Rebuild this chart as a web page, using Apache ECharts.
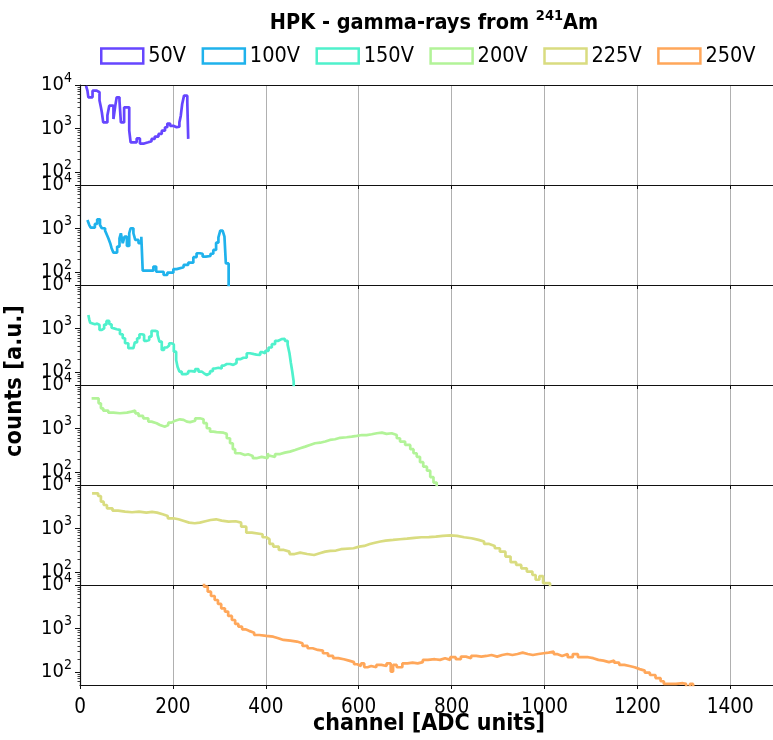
<!DOCTYPE html>
<html><head><meta charset="utf-8">
<script src="https://cdn.jsdelivr.net/npm/echarts@6/dist/echarts.min.js"></script>
<style>html,body{margin:0;padding:0;background:#fff}#c{width:773px;height:740px}</style>
</head><body><div id="c"></div>
<script>
// ---------------- data ----------------
const seriesNames = ['50V', '100V', '150V', '200V', '225V', '250V'];
const xTicks = [0, 200, 400, 600, 800, 1000, 1200, 1400];
const yMajorTicks = [100, 1000, 10000];
const yMinorTicks = [60, 70, 80, 90, 200, 300, 400, 500, 600, 700, 800, 900, 2000, 3000, 4000, 5000, 6000, 7000, 8000, 9000];

// bin left edges (channel) and counts; last entry = closing edge
const edges50 = [13,16,18,27,36,42,45,47,50,59,63,72,76,79,85,88,95,106,109,122,129,138,147,154,161,169,176,183,188,194,201,208,214,217,220,224,231,233];
const counts50 = [9500,7400,5200,7400,6800,4400,3070,2360,1380,2000,3350,1650,3350,5200,4370,1380,3070,890,480,590,450,480,510,575,650,750,890,1065,1300,1150,1065,1100,1380,1970,3660,5690,4000,575];

const edges100 = [16,20,23,32,37,43,47,54,58,61,65,68,72,80,85,88,92,96,101,106,109,115,119,126,132,135,158,164,180,188,201,208,223,233,244,251,258,264,271,281,287,293,298,302,307,311,314,320];
const counts100 = [1570,1200,1045,1270,1620,1200,1010,890,708,595,457,351,278,382,595,776,457,646,396,776,1010,776,545,457,646,107,133,101,85,96,116,128,145,163,218,269,262,225,232,262,320,470,627,890,925,646,157,1];

const edges150 = [18,20,22,25,32,37,42,47,52,57,63,68,72,79,86,92,97,104,115,118,123,128,133,138,144,149,154,162,167,171,176,181,187,192,197,202,207,210,214,219,228,233,240,248,255,262,267,273,280,286,291,298,305,310,316,323,330,337,345,352,359,366,375,380,388,393,399,406,413,420,427,434,441,447,451,454,457,460,463];
const counts150 = [2040,1600,1350,1250,1290,1200,925,1000,1230,1490,1250,1045,960,925,735,595,457,351,385,480,595,735,710,520,545,650,880,850,710,500,320,365,405,457,430,293,189,132,102,89,93,104,102,116,102,93,85,93,104,120,125,120,140,152,152,145,160,196,212,212,269,256,250,245,285,269,305,365,435,520,570,580,520,425,269,160,102,60,1];

const edges200 = [25,40,45,50,61,72,86,101,111,119,126,136,147,154,165,172,183,190,197,205,215,223,230,237,248,258,266,273,280,287,294,309,316,323,329,334,345,355,362,372,380,391,404,406,411,420,431,441,452,463,474,485,495,506,517,528,538,549,560,574,585,596,607,617,628,639,650,660,671,682,689,700,711,718,725,732,739,747,754,761,768];
const counts200 = [4930,3790,2910,2570,2310,2235,2310,2440,2570,2235,1940,1715,1437,1320,1205,1100,1205,1360,1510,1625,1580,1437,1400,1510,1715,1625,1320,1010,845,820,800,750,595,457,333,269,245,255,233,207,222,207,270,233,222,258,278,293,320,350,382,417,457,470,500,545,565,610,627,646,675,708,700,735,776,800,750,776,708,595,500,417,333,269,222,168,132,107,76,57,1];

const edges225 = [26,39,45,51,58,70,82,97,112,127,143,155,166,178,189,201,212,224,235,247,258,270,281,293,305,320,335,347,358,370,393,401,408,416,428,439,451,462,474,489,504,516,528,539,551,562,589,601,612,624,635,647,658,674,689,704,720,735,751,766,781,797,812,827,843,858,870,881,893,904,916,927,939,950,962,974,981,989,997,1012];
const counts225 = [6430,5590,4140,3470,2910,2570,2440,2360,2440,2310,2400,2310,2120,1940,1715,1625,1485,1360,1320,1360,1465,1567,1625,1510,1437,1465,1360,1100,800,735,627,565,440,382,320,293,258,278,258,245,268,293,305,310,333,350,382,396,440,470,500,525,545,565,585,610,627,635,646,675,690,675,627,595,545,500,440,396,350,293,225,168,145,121,102,85,66,80,55,1];

const edges250 = [260,267,275,282,290,297,304,312,319,327,334,341,349,356,364,375,386,401,416,427,438,453,467,479,490,501,512,523,534,545,556,568,579,590,597,605,612,619,627,638,649,660,669,674,682,694,705,716,727,738,749,764,775,786,797,809,820,831,842,853,864,875,886,898,909,920,931,942,953,964,975,987,998,1009,1020,1027,1038,1050,1061,1072,1094,1105,1116,1127,1139,1150,1161,1172,1183,1194,1205,1216,1227,1239,1250,1257,1283,1298,1305,1313,1320];
const counts250 = [12000,9160,7030,5590,4520,3660,2910,2440,1940,1567,1270,1100,955,880,800,708,675,646,595,545,525,500,457,396,350,320,310,269,233,207,196,182,168,150,137,157,128,137,128,145,137,157,102,145,128,157,163,157,168,189,196,189,207,189,218,196,225,207,233,225,233,245,225,245,258,245,258,278,258,245,258,269,278,293,258,233,258,218,258,218,207,189,182,168,182,163,145,137,128,116,107,96,85,72,61,53,55,53,40,53,1];

const allEdges = [edges50, edges100, edges150, edges200, edges225, edges250];
const allCounts = [counts50, counts100, counts150, counts200, counts225, counts250];

// ---------------- style ----------------
const palette = ['#6646ff', '#1fb2ec', '#4ff1cc', '#b2f398', '#d9dc80', '#ffa75a'];
const FONT = '"DejaVu Sans Condensed", "DejaVu Sans", sans-serif';
const N = seriesNames.length;
const X_MAX = 1492;   // right edge of the plot coincides with the canvas edge

const grids = [], xAxes = [], yAxes = [], series = [];
for (let i = 0; i < N; i++) {
  const last = i === N - 1;
  grids.push({left: 80, right: 0, top: 85 + 100 * i, height: 100, show: false,
    containLabel: false, outerBoundsMode: 'none'});
  xAxes.push({
    gridIndex: i, type: 'value', min: 0, max: X_MAX, interval: 200, position: 'bottom',
    axisLine: {show: true, lineStyle: {color: '#111', width: 1.2}},
    axisTick: {show: true, length: 4, lineStyle: {color: '#111', width: 1}},
    axisLabel: {show: last, margin: 12, color: '#000', fontSize: 20.5, fontFamily: FONT,
      customValues: xTicks,
      formatter: v => (xTicks.indexOf(v) >= 0 ? String(v) : '')},
    splitLine: {show: true, lineStyle: {color: '#b0b0b0', width: 1}}
  });
}
// top spine of the first panel
xAxes.push({
  gridIndex: 0, type: 'value', min: 0, max: X_MAX, position: 'top',
  axisLine: {show: true, lineStyle: {color: '#111', width: 1.2}},
  axisTick: {show: false}, axisLabel: {show: false}, splitLine: {show: false}
});
for (let i = 0; i < N; i++) {
  yAxes.push({
    gridIndex: i, type: 'log', logBase: 10, min: 50, max: 10000, position: 'left',
    axisLine: {show: true, lineStyle: {color: '#111', width: 1.2}},
    axisTick: {show: true, length: 5, customValues: yMajorTicks, lineStyle: {color: '#111', width: 1}},
    axisLabel: {show: true, customValues: yMajorTicks, margin: 8, color: '#000',
      formatter: v => '{b|10}{s|' + Math.round(Math.log10(v)) + '}',
      rich: {
        b: {fontSize: 20, fontFamily: FONT, color: '#000', lineHeight: 28},
        s: {fontSize: 14, fontFamily: FONT, color: '#000', lineHeight: 14, verticalAlign: 'top'}
      }},
    splitLine: {show: false}
  });
}
for (let i = 0; i < N; i++) {
  yAxes.push({
    gridIndex: i, type: 'log', logBase: 10, min: 50, max: 10000, position: 'left',
    axisLine: {show: false},
    axisTick: {show: true, length: 2.5, customValues: yMinorTicks, lineStyle: {color: '#111', width: 0.8}},
    axisLabel: {show: false},
    splitLine: {show: false}
  });
}
for (let i = 0; i < N; i++) {
  series.push({
    type: 'line', name: seriesNames[i], xAxisIndex: i, yAxisIndex: i,
    step: 'end', symbol: 'none', showSymbol: false, clip: true,
    data: allEdges[i].map((e, k) => [e, allCounts[i][k]]),
    lineStyle: {color: palette[i], width: 2.7},
    itemStyle: {color: palette[i]}
  });
}

const chart = echarts.init(document.getElementById('c'), null, {renderer: 'canvas'});
chart.setOption({
  animation: false,
  backgroundColor: '#fff',
  title: {
    text: '{b|HPK}{n| - gamma-rays from }{s|241}{n|Am}',
    left: 429, top: 4, textAlign: 'center',
    textStyle: {
      rich: {
        b: {fontSize: 21.5, fontWeight: 'bold', fontFamily: FONT, color: '#000', lineHeight: 28},
        n: {fontSize: 21.5, fontFamily: FONT, color: '#000', lineHeight: 28},
        s: {fontSize: 14.5, fontFamily: FONT, color: '#000', lineHeight: 14, verticalAlign: 'top'}
      }
    }
  },
  legend: {
    left: 95, top: 40, itemWidth: 42, itemHeight: 15, itemGap: 15.5, icon: 'rect',
    textStyle: {fontSize: 21.5, fontFamily: FONT, color: '#000', lineHeight: 15},
    data: seriesNames.map((n, i) => ({name: n,
      itemStyle: {color: 'rgba(0,0,0,0)', borderColor: palette[i], borderWidth: 2.5}}))
  },
  grid: grids,
  xAxis: xAxes,
  yAxis: yAxes,
  series: series,
  graphic: [
    {type: 'text', x: 15, y: 381, rotation: Math.PI / 2,
      style: {text: 'counts [a.u.]', fontSize: 23.5, fontWeight: 'bold', fontFamily: FONT, fill: '#000',
        align: 'center', verticalAlign: 'middle'}},
    {type: 'text', x: 429, y: 724,
      style: {text: 'channel [ADC units]', fontSize: 23, fontWeight: 'bold', fontFamily: FONT, fill: '#000',
        align: 'center', verticalAlign: 'middle'}}
  ]
});
</script></body></html>
